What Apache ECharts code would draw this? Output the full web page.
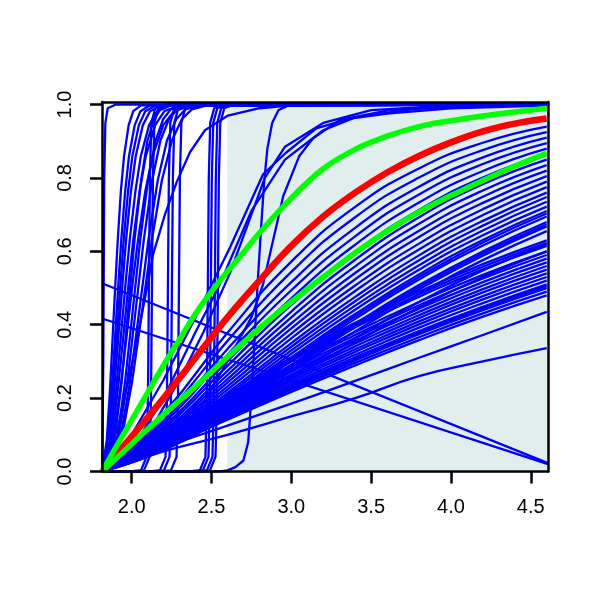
<!DOCTYPE html>
<html>
<head>
<meta charset="utf-8">
<script src="https://cdn.jsdelivr.net/npm/echarts@6/dist/echarts.min.js"></script>
<style>html,body{margin:0;padding:0;background:#fff}#c{width:600px;height:600px}</style>
</head>
<body>
<div id="c"></div>
<script>
// ---- axis ticks ----
const xTicks = [2.0, 2.5, 3.0, 3.5, 4.0, 4.5];
const yTicks = [0.0, 0.2, 0.4, 0.6, 0.8, 1.0];
const shadeStart = 2.6;

// ---- main fan of blue curves, y at shared x grid ----
const fanX = [1.815, 2.2, 2.6, 3.0, 3.4, 3.8, 4.2, 4.6];
const fanY = [
  [0,0.159,0.378,0.572,0.721,0.826,0.896,0.94],
  [0,0.149,0.356,0.544,0.693,0.801,0.876,0.925],
  [0,0.138,0.334,0.516,0.664,0.776,0.856,0.91],
  [0,0.131,0.318,0.494,0.641,0.755,0.838,0.895],
  [0,0.123,0.301,0.472,0.618,0.733,0.819,0.88],
  [0,0.117,0.288,0.454,0.598,0.713,0.801,0.865],
  [0,0.110,0.274,0.436,0.577,0.693,0.783,0.85],
  [0,0.105,0.263,0.420,0.559,0.675,0.766,0.835],
  [0,0.100,0.252,0.404,0.541,0.656,0.749,0.82],
  [0,0.096,0.242,0.390,0.524,0.639,0.732,0.805],
  [0,0.092,0.232,0.376,0.507,0.621,0.715,0.79],
  [0,0.088,0.223,0.363,0.492,0.605,0.699,0.775],
  [0,0.084,0.214,0.350,0.476,0.589,0.683,0.76],
  [0,0.082,0.208,0.340,0.464,0.576,0.670,0.748],
  [0,0.079,0.201,0.330,0.452,0.562,0.657,0.735],
  [0,0.077,0.195,0.321,0.441,0.550,0.644,0.722],
  [0,0.074,0.189,0.311,0.429,0.537,0.631,0.71],
  [0,0.073,0.186,0.306,0.423,0.530,0.624,0.703],
  [0,0.071,0.182,0.301,0.416,0.523,0.616,0.695],
  [0,0.068,0.175,0.291,0.403,0.508,0.600,0.68],
  [0,0.067,0.173,0.287,0.398,0.502,0.594,0.674],
  [0,0.066,0.170,0.283,0.393,0.496,0.588,0.668],
  [0,0.064,0.165,0.275,0.382,0.484,0.576,0.655],
  [0,0.096,0.206,0.311,0.405,0.490,0.565,0.63],
  [0,0.095,0.203,0.306,0.399,0.483,0.558,0.623],
  [0,0.060,0.156,0.261,0.364,0.462,0.548,0.62],
  [0,0.093,0.199,0.300,0.393,0.476,0.551,0.615],
  [0,0.058,0.150,0.252,0.352,0.447,0.530,0.60],
  [0,0.089,0.191,0.290,0.380,0.462,0.536,0.60],
  [0,0.087,0.187,0.284,0.372,0.453,0.526,0.59],
  [0,0.084,0.182,0.277,0.364,0.444,0.516,0.58],
  [0,0.082,0.178,0.271,0.357,0.435,0.507,0.57],
  [0,0.080,0.173,0.264,0.349,0.426,0.497,0.56],
  [0,0.078,0.169,0.258,0.341,0.418,0.488,0.55],
  [0,0.076,0.165,0.252,0.333,0.409,0.478,0.54],
  [0,0.074,0.161,0.246,0.326,0.401,0.469,0.53],
  [0,0.072,0.157,0.240,0.318,0.392,0.459,0.52],
  [0,0.070,0.152,0.234,0.311,0.383,0.449,0.51],
  [0,0.069,0.151,0.231,0.307,0.379,0.445,0.505],
  [0,0.068,0.149,0.228,0.303,0.374,0.440,0.50],
  [0,0.066,0.145,0.223,0.296,0.366,0.431,0.49],
  [0,0.064,0.141,0.217,0.289,0.358,0.422,0.48],
  [0,0.065,0.125,0.185,0.247,0.310,0.372,0.435],
  [0,0.055,0.100,0.150,0.200,0.260,0.300,0.336]
];

// ---- steep S-curves on the left: shared y profiles, per-curve x ----
const sk2Y = [0,0.086,0.221,0.387,0.514,0.632,0.763,0.859,0.944,0.982,0.998,1];
const sk2X = [
  [1.815,1.844,1.864,1.883,1.898,1.913,1.932,1.952,1.981,2.010,2.059,4.6],
  [1.815,1.851,1.875,1.899,1.917,1.935,1.959,1.983,2.019,2.055,2.115,4.6],
  [1.815,1.856,1.883,1.910,1.930,1.950,1.977,2.004,2.045,2.085,2.153,4.6],
  [1.815,1.860,1.890,1.920,1.943,1.965,1.995,2.025,2.070,2.115,2.190,4.6],
  [1.815,1.867,1.902,1.936,1.962,1.988,2.023,2.057,2.109,2.161,2.248,4.6],
  [1.815,1.874,1.913,1.952,1.981,2.010,2.049,2.088,2.147,2.205,2.303,4.6],
  [1.815,1.883,1.928,1.973,2.006,2.040,2.085,2.130,2.198,2.265,2.378,4.6]
];
const sk25Y = [0,0.096,0.243,0.436,0.632,0.793,0.902,0.96,0.987,0.998,1];
const sk25X = [
  [1.815,1.896,1.937,1.977,2.018,2.059,2.099,2.140,2.180,2.241,4.6],
  [1.815,1.911,1.958,2.006,2.054,2.102,2.150,2.197,2.245,2.317,4.6],
  [1.815,1.919,1.972,2.024,2.076,2.128,2.180,2.233,2.285,2.363,4.6],
  [1.815,1.931,1.989,2.047,2.105,2.163,2.221,2.279,2.337,2.424,4.6],
  [1.815,1.940,2.002,2.065,2.127,2.189,2.252,2.314,2.377,2.470,4.6]
];

// ---- near-vertical steps ----
const stepY = [0,0,0.003,0.04,0.2,0.5,0.8,0.95,0.99,1,1];
const stepX = [
  [1.815,1.988,2.058,2.093,2.102,2.108,2.114,2.123,2.148,2.208,4.6],
  [1.815,2.007,2.077,2.112,2.121,2.127,2.133,2.142,2.167,2.227,4.6],
  [1.815,2.107,2.177,2.212,2.221,2.227,2.233,2.242,2.267,2.327,4.6],
  [1.815,2.132,2.202,2.237,2.246,2.252,2.258,2.267,2.292,2.352,4.6],
  [1.815,2.176,2.246,2.281,2.290,2.296,2.302,2.311,2.336,2.396,4.6],
  [1.815,2.357,2.427,2.462,2.471,2.477,2.483,2.492,2.517,2.577,4.6],
  [1.815,2.376,2.446,2.481,2.490,2.496,2.502,2.511,2.536,2.596,4.6],
  [1.815,2.401,2.471,2.506,2.515,2.521,2.527,2.536,2.561,2.621,4.6],
  [1.815,2.420,2.490,2.525,2.534,2.540,2.546,2.555,2.580,2.640,4.6]
];

// ---- individual blue curves ----
const edgeX = [1.815,1.822,1.828,1.835,1.85,1.9,4.6];
const edgeY = [0,0.3,0.8,0.95,0.99,1,1];
const slowX = [1.815,1.92,2.0,2.096,2.133,2.208,2.283,2.365,2.459,2.603,2.8,3.0,4.6];
const slowY = [0,0.13,0.29,0.5,0.59,0.70,0.79,0.87,0.93,0.97,0.99,0.998,1];
const lateX = [1.815,2.55,2.6,2.65,2.70,2.73,2.75,2.77,2.79,2.81,2.83,2.85,2.88,2.92,2.98,3.1,4.6];
const lateY = [0,0,0.003,0.012,0.03,0.08,0.2,0.36,0.52,0.66,0.79,0.88,0.95,0.985,0.997,1,1];
const upAX = [1.815,2.0,2.2,2.4,2.615,2.823,2.97,3.157,3.366,3.616,4.0,4.6];
const upAY = [0,0.1,0.25,0.42,0.61,0.81,0.87,0.935,0.962,0.976,0.99,0.997];
const upBX = [1.815,2.1,2.4,2.6,2.75,2.823,2.949,3.05,3.136,3.303,3.616,4.2,4.6];
const upBY = [0,0.04,0.15,0.3,0.42,0.51,0.75,0.86,0.908,0.958,0.985,0.998,1];
const upCX = [1.815,2.0,2.2,2.4,2.542,2.75,2.96,3.2,3.4,3.8,4.6];
const upCY = [0,0.06,0.2,0.38,0.5,0.71,0.85,0.93,0.965,0.99,1];
const upDX = [1.815,2.1,2.3,2.45,2.615,2.834,2.96,3.2,3.5,4.0,4.6];
const upDY = [0,0.1,0.25,0.38,0.54,0.8,0.885,0.95,0.985,0.998,1];
const fallAX = [1.814, 4.608];
const fallAY = [0.513, 0.023];
const fallBX = [1.814, 4.608];
const fallBY = [0.417, 0.020];

// ---- highlighted curves ----
const redX = [1.815,1.9,2.0,2.2,2.4,2.6,2.8,3.0,3.2,3.4,3.6,3.8,4.0,4.2,4.4,4.6];
const redY = [0,0.045,0.095,0.2,0.31,0.42,0.52,0.615,0.695,0.76,0.815,0.86,0.897,0.927,0.948,0.962];
const greenHiX = [1.815,1.9,2.0,2.1,2.2,2.3,2.4,2.5,2.6,2.7,2.8,3.0,3.2,3.4,3.6,3.8,4.0,4.2,4.4,4.6];
const greenHiY = [0,0.065,0.14,0.215,0.29,0.36,0.43,0.49,0.545,0.597,0.65,0.745,0.825,0.878,0.914,0.94,0.956,0.969,0.98,0.99];
const greenLoX = [1.815,2.0,2.2,2.4,2.6,2.8,3.0,3.2,3.4,3.6,3.8,4.0,4.2,4.4,4.6];
const greenLoY = [0,0.075,0.155,0.232,0.312,0.39,0.462,0.53,0.596,0.655,0.707,0.752,0.793,0.832,0.867];

const BLUE = '#0000ff';
function zip(xs, ys){ return xs.map((x,i)=>[x, ys[i]]); }
function line(data, color, width, z, smooth){
  return {type:'line', data:data, showSymbol:false, symbol:'none', silent:true,
    smooth: smooth || false, z:z,
    lineStyle:{color:color, width:width, cap:'butt', join:'round'}};
}

const series = [];
series.push({type:'line', data:[[4.6,0]], symbol:'none', silent:true, z:0,
  lineStyle:{width:0},
  markArea:{silent:true, itemStyle:{color:'#e0eeee'}, data:[[{xAxis:shadeStart},{xAxis:4.608}]]}});
fanY.forEach(ys => series.push(line(zip(fanX, ys), BLUE, 2.3, 2, 0.5)));
sk2X.forEach(xs => series.push(line(zip(xs, sk2Y), BLUE, 2.3, 2, false)));
sk25X.forEach(xs => series.push(line(zip(xs, sk25Y), BLUE, 2.3, 2, false)));
stepX.forEach(xs => series.push(line(zip(xs, stepY), BLUE, 2.3, 2, false)));
[[edgeX,edgeY],[slowX,slowY],[lateX,lateY],[upAX,upAY],[upBX,upBY],[upCX,upCY],[upDX,upDY],[fallAX,fallAY],[fallBX,fallBY]]
  .forEach(p => series.push(line(zip(p[0], p[1]), BLUE, 2.3, 2, false)));
series.push(line(zip(redX, redY), '#ff0000', 6.5, 3, 0.4));
series.push(line(zip(greenHiX, greenHiY), '#00ff00', 5.5, 4, 0.4));
series.push(line(zip(greenLoX, greenLoY), '#00ff00', 5.5, 4, 0.4));

const FONT = 'Liberation Sans';
const frame = {show:true, onZero:false, lineStyle:{color:'#000', width:2.5}};
const chart = echarts.init(document.getElementById('c'), null, {renderer:'canvas'});
chart.setOption({
  animation:false,
  backgroundColor:'#ffffff',
  grid:{left:102, right:52, top:102, bottom:128.5, show:false},
  xAxis:[{type:'value', min:1.814, max:4.608, position:'bottom', z:20,
    axisLine:frame,
    axisTick:{show:true, customValues:xTicks, length:12, lineStyle:{color:'#000', width:2.5}},
    axisLabel:{customValues:xTicks, margin:26, color:'#000', fontFamily:FONT, fontSize:20,
      formatter:v=>Number(v).toFixed(1)},
    splitLine:{show:false}},
   {type:'value', min:1.814, max:4.608, position:'top', z:20,
    axisLine:frame, axisTick:{show:false}, axisLabel:{show:false}, splitLine:{show:false}}],
  yAxis:[{type:'value', min:0, max:1.007, position:'left', z:20,
    axisLine:frame,
    axisTick:{show:true, customValues:yTicks, length:12, lineStyle:{color:'#000', width:2.5}},
    axisLabel:{customValues:yTicks, margin:27, rotate:90, color:'#000', fontFamily:FONT, fontSize:20,
      formatter:v=>Number(v).toFixed(1)},
    splitLine:{show:false}},
   {type:'value', min:0, max:1.007, position:'right', z:20,
    axisLine:frame, axisTick:{show:false}, axisLabel:{show:false}, splitLine:{show:false}}],
  series:series
});
</script>
</body>
</html>
